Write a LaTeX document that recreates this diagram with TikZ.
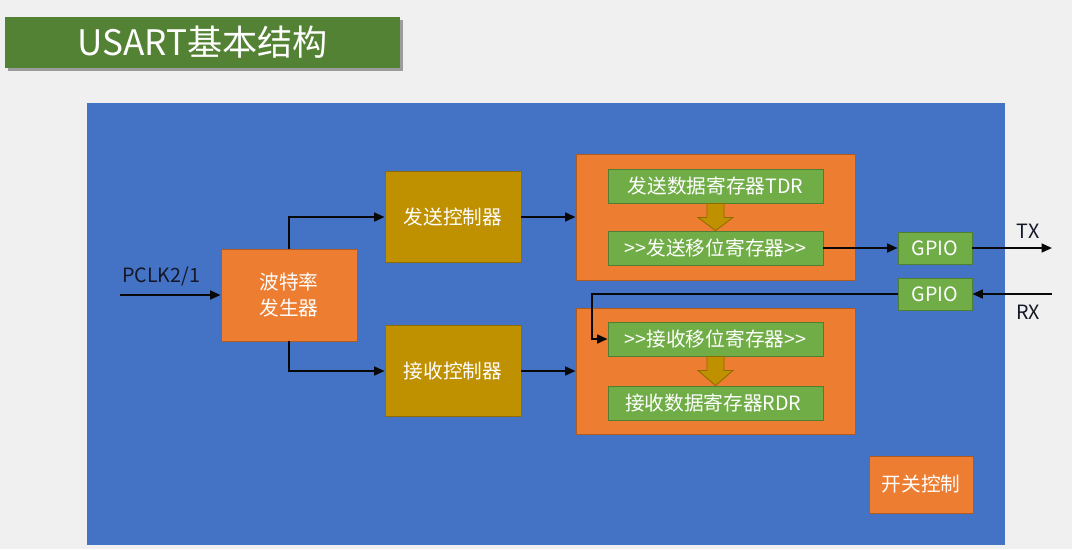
\documentclass[tikz,border=0pt]{standalone}
\usepackage{fontspec}
\setmainfont{Noto Sans CJK SC}
\usepackage{tikz}
\usetikzlibrary{positioning, arrows.meta, calc, shadows}
\definecolor{SlideGray}{RGB}{240,240,240}
\definecolor{PanelBlue}{RGB}{68,114,196}
\definecolor{BoxOrange}{RGB}{237,125,49}
\definecolor{OrangeEdge}{RGB}{174,90,33}
\definecolor{CtrlGold}{RGB}{191,144,0}
\definecolor{GoldEdge}{RGB}{143,108,0}
\definecolor{RegGreen}{RGB}{112,173,71}
\definecolor{GreenEdge}{RGB}{80,126,50}
\definecolor{TitleGreen}{RGB}{84,130,53}
\definecolor{WireBlack}{RGB}{8,8,8}
\definecolor{LabelInk}{RGB}{20,24,40}

\tikzset{
  boxtext/.style={text=white, font=\fontsize{14}{18}\selectfont,
                  inner sep=0pt, align=center},
  orangebox/.style={boxtext, fill=BoxOrange, draw=OrangeEdge, line width=0.6pt},
  ctrlbox/.style={boxtext, fill=CtrlGold, draw=GoldEdge, line width=0.6pt,
                  minimum width=3.4cm, minimum height=2.275cm},
  regbox/.style={boxtext, fill=RegGreen, draw=GreenEdge, line width=0.6pt,
                 minimum width=5.375cm, minimum height=0.85cm},
  gpiobox/.style={regbox, minimum width=1.85cm, minimum height=0.8cm},
  wire/.style={WireBlack, line width=1.5pt,
               -{Triangle[length=2.6mm,width=2.2mm]}},
  pinlabel/.style={LabelInk, font=\fontsize{14}{18}\selectfont, inner sep=0pt},
  titlebar/.style={fill=TitleGreen, text=white, font=\fontsize{25}{30}\selectfont,
                   minimum width=9.875cm, minimum height=1.275cm, inner sep=0pt,
                   drop shadow={shadow xshift=0.7mm, shadow yshift=-0.7mm,
                                fill=black, opacity=0.35}}
}

\begin{document}
\begin{tikzpicture}[x=0.025cm, y=-0.025cm]
  \fill[SlideGray] (0,0) rectangle (1072,549);
  \useasboundingbox (0,0) rectangle (1072,549);

  \node[titlebar] (title) at (202.5,42.5) {USART基本结构};
  \node[fill=PanelBlue, minimum width=22.95cm, minimum height=11.05cm,
        inner sep=0pt] (panel) at (546,324) {};

  % clock and controllers
  \node[orangebox, minimum width=3.4cm, minimum height=2.3cm] (baud)
        at (289,295) {波特率\\发生器};
  \node[ctrlbox] (sendctl) at (453,217) {发送控制器};
  \node[ctrlbox] (recvctl) at (453,371) {接收控制器};

  % register groups
  \node[orangebox, minimum width=6.975cm, minimum height=3.15cm] (txbox)
        at (715.5,217) {};
  \node[orangebox, minimum width=6.975cm, minimum height=3.15cm] (rxbox)
        at (715.5,371) {};
  \foreach \name/\ry/\txt in {
    tdr/186/发送数据寄存器TDR,
    txsr/248/{>{}>发送移位寄存器>{}>},
    rxsr/339/{>{}>接收移位寄存器>{}>},
    rdr/403/接收数据寄存器RDR
  } {
    \node[regbox] (\name) at (715.5,\ry) {\txt};
  }
  \foreach \src/\dst in {tdr/txsr, rxsr/rdr} {
    \filldraw[fill=CtrlGold, draw=GoldEdge, line width=0.6pt]
          ($(\src.south)+(-8.5,0)$) -- ($(\src.south)+(8.5,0)$) --
          ($(\src.south)+(8.5,14)$) -- ($(\src.south)+(17.5,14)$) --
          (\dst.north) -- ($(\src.south)+(-17.5,14)$) --
          ($(\src.south)+(-8.5,14)$) -- cycle;
  }

  \node[gpiobox] (gpiotx) at (935,248) {GPIO};
  \node[gpiobox] (gpiorx) at (935,294) {GPIO};
  \node[orangebox, minimum width=2.6cm, minimum height=1.425cm] (switch)
        at (921,484.5) {开关控制};

  % wires
  \coordinate (pclk) at (120,295);
  \coordinate (tx) at (1052,248);
  \coordinate (rx) at (1052,294);
  \coordinate (rxbend) at (592,294);
  \node[pinlabel] (pclklbl) at (161,276) {PCLK2/1};
  \node[pinlabel] (txlbl) at (1028,231) {TX};
  \node[pinlabel] (rxlbl) at (1028,312) {RX};

  \draw[wire] (pclk) -- (baud.west);
  \draw[wire] (baud.north) |- (sendctl.west);
  \draw[wire] (baud.south) |- (recvctl.west);
  \draw[wire] (sendctl.east) -- (txbox.west);
  \draw[wire] (recvctl.east) -- (rxbox.west);
  \draw[wire] (txsr.east) -- (gpiotx.west);
  \draw[wire] (gpiotx.east) -- (tx);
  \draw[wire] (rx) -- (gpiorx.east);
  \draw[wire] (gpiorx.west) -- (rxbend) |- (rxsr.west);
\end{tikzpicture}
\end{document}
